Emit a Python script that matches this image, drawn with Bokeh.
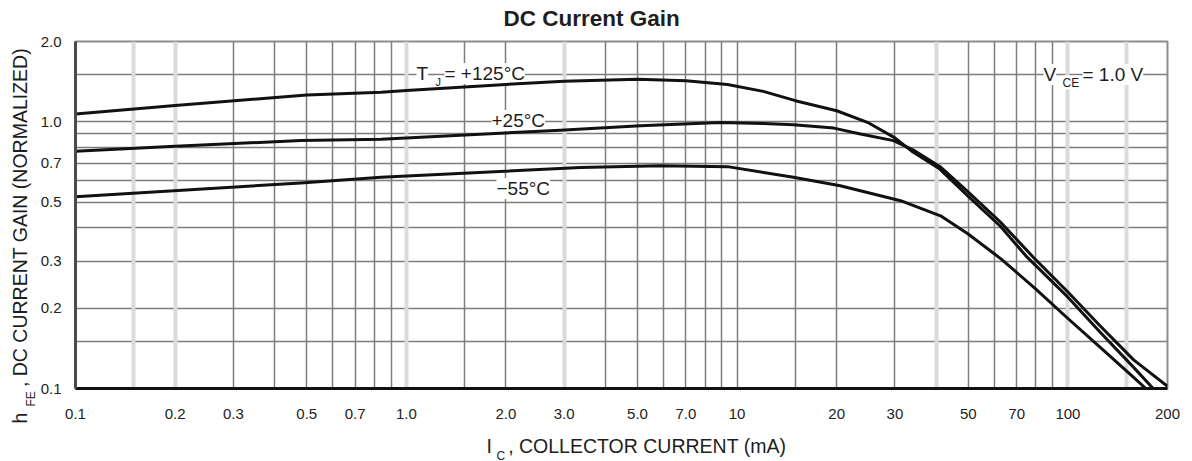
import math
from bokeh.plotting import figure
from bokeh.models import Range1d, FixedTicker, Grid, Label
from bokeh.embed import file_html
from bokeh.resources import INLINE

# Collector current (mA) and normalized DC current gain per junction temperature
ic_125 = [0.1, 0.2, 0.5, 0.84, 1.0, 2.0, 3.0, 5.0, 7.0, 9.35, 12, 15, 20, 25, 30, 34, 41, 50,
          62.6, 74.5, 100, 125, 158, 181]
hfe_125 = [1.07, 1.15, 1.26, 1.29, 1.31, 1.38, 1.42, 1.445, 1.425, 1.38, 1.30, 1.20, 1.10, 0.99,
           0.87, 0.77, 0.665, 0.525, 0.405, 0.315, 0.22, 0.163, 0.12, 0.1]

ic_25 = [0.1, 0.2, 0.48, 0.84, 2.92, 5.1, 8.9, 12, 14.8, 19.6, 23.6, 29.7, 34, 41, 50, 62.6,
         78.7, 100, 125, 158, 200]
hfe_25 = [0.775, 0.81, 0.85, 0.86, 0.93, 0.966, 0.994, 0.985, 0.974, 0.947, 0.90, 0.85, 0.785,
          0.68, 0.545, 0.42, 0.31, 0.23, 0.172, 0.128, 0.102]

ic_m55 = [0.1, 0.48, 0.84, 3.36, 5.87, 9.35, 14.8, 20.5, 31.2, 41.2, 49.7, 62.6, 80, 100, 125,
          158, 172]
hfe_m55 = [0.524, 0.59, 0.619, 0.674, 0.684, 0.679, 0.619, 0.576, 0.506, 0.444, 0.381, 0.307,
           0.236, 0.183, 0.143, 0.11, 0.1]

x_ticks = [0.1, 0.2, 0.3, 0.5, 0.7, 1.0, 2.0, 3.0, 5.0, 7.0, 10, 20, 30, 50, 70, 100, 200]
x_tick_labels = ["0.1", "0.2", "0.3", "0.5", "0.7", "1.0", "2.0", "3.0", "5.0", "7.0",
                 "10", "20", "30", "50", "70", "100", "200"]
y_ticks = [0.1, 0.2, 0.3, 0.5, 0.7, 1.0, 2.0]
y_tick_labels = ["0.1", "0.2", "0.3", "0.5", "0.7", "1.0", "2.0"]

# chart-paper grid: 1, 1.5, 2 ... 9 in every decade
x_grid = [0.15, 0.2, 0.3, 0.4, 0.5, 0.6, 0.7, 0.8, 0.9,
          1.0, 1.5, 2, 3, 4, 5, 6, 7, 8, 9,
          10, 15, 20, 30, 40, 50, 60, 70, 80, 90, 100, 150]
x_grid_soft = [0.15, 0.2, 1.0, 3.0, 40, 100, 150]
y_grid = [0.15, 0.2, 0.3, 0.4, 0.5, 0.6, 0.7, 0.8, 0.9, 1.0, 1.5]

FONT = "Liberation Sans"
INK = "#1e1e1e"
NB = "\u00a0"
THIN = "\u2009"
LEFT, RIGHT, TOP, BOTTOM = 75, 25, 41, 73
W, H = 1192, 461

p = figure(width=W, height=H, x_axis_type="log", y_axis_type="log",
           x_range=Range1d(0.1, 200.0), y_range=Range1d(0.1, 2.0),
           output_backend="svg", toolbar_location=None,
           min_border_left=LEFT, min_border_right=RIGHT,
           min_border_top=TOP, min_border_bottom=BOTTOM)
p.background_fill_color = "white"
p.border_fill_color = "white"
p.outline_line_color = "#8c8c8c"
p.outline_line_width = 2
p.title.visible = False

# grids
p.xgrid.ticker = FixedTicker(ticks=x_grid)
p.ygrid.ticker = FixedTicker(ticks=y_grid)
for g in (p.xgrid, p.ygrid):
    g.grid_line_color = "#7d7d7d"
    g.grid_line_width = 1.5
soft = Grid(dimension=0, ticker=FixedTicker(ticks=x_grid_soft),
            grid_line_color="#dadada", grid_line_width=4, level="underlay")
p.add_layout(soft)

# axes
for ax in (p.xaxis, p.yaxis):
    ax.major_tick_line_color = None
    ax.minor_tick_line_color = None
    ax.major_label_text_font = FONT
    ax.major_label_text_font_size = "15px"
    ax.major_label_text_color = "#222222"
p.xaxis.ticker = FixedTicker(ticks=x_ticks)
p.yaxis.ticker = FixedTicker(ticks=y_ticks)
p.xaxis.major_label_overrides = {t: s for t, s in zip(x_ticks, x_tick_labels)}
p.yaxis.major_label_overrides = {t: s for t, s in zip(y_ticks, y_tick_labels)}
p.xaxis.axis_line_color = "#111111"
p.xaxis.axis_line_width = 3
p.yaxis.axis_line_color = "#4a4a4a"
p.yaxis.axis_line_width = 3
p.xaxis.major_label_standoff = 14
p.yaxis.major_label_standoff = 8

# curves
for xs, ys in ((ic_125, hfe_125), (ic_25, hfe_25), (ic_m55, hfe_m55)):
    p.line(xs, ys, line_color="#111111", line_width=3, line_join="round")


def put(text, px, py, size, angle=0.0, bg=None, side=None, style="normal"):
    """Place a text piece at a canvas pixel position (left end, vertical middle).

    Pieces outside the plot frame live in a side panel so they are not clipped.
    Pieces inside the frame sit under the curves but over the grid.
    """
    lab = Label(x=px, y=py, x_units="canvas", y_units="canvas", text=text,
                text_font=FONT, text_font_size=size, text_font_style=style,
                text_color=INK, angle=angle, text_align="left", text_baseline="middle")
    if bg:
        lab.background_fill_color = bg
    if side:
        p.add_layout(lab, side)
    else:
        lab.level = "underlay"
        p.add_layout(lab)


# chart title
put("DC Current Gain", 503, 18, "22.5px", side="above", style="bold")

# curve annotations
put("T", 416, 73, "19px", bg="white")
put("J", 435, 81, "11px", bg="white")
put("= +125°C", 444, 73, "19px", bg="white")
put("+25°C", 491, 120, "19px", bg="white")
put("\u221255°C", 496, 188, "19px", bg="white")
put("V", 1043, 74, "19px", bg="white")
put("CE", 1062, 82, "12px", bg="white")
put("= 1.0 V", 1082, 74, "19px", bg="white")

# axis titles with their subscripts
put("I" + NB * 3 + ", COLLECTOR CURRENT (mA)", 486, 445, "19.5px", side="below")
put("C", 496, 455, "12px", side="left")
put("h" + NB * 4 + THIN + ", DC CURRENT GAIN (NORMALIZED)", 19, 423, "19.5px",
    angle=math.pi / 2, side="left")
put("FE", 30, 406, "12px", angle=math.pi / 2, side="right")

open("out.html", "w").write(file_html(p, INLINE))
